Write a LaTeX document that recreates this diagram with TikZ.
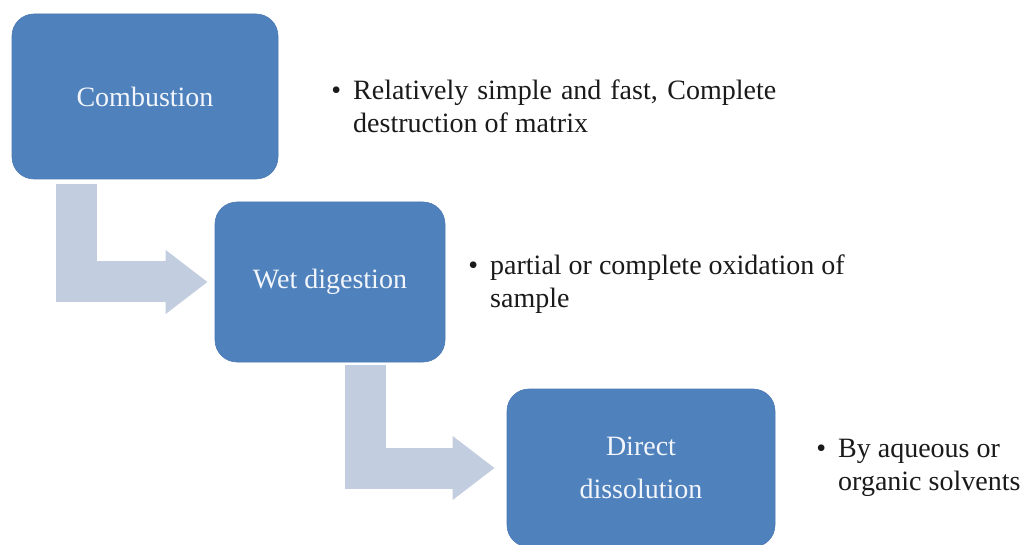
\documentclass[tikz,border=0pt]{standalone}
\usepackage{fontspec}
\setmainfont{Liberation Serif}
\usetikzlibrary{arrows.meta}
\definecolor{boxblue}{HTML}{4F81BD}
\definecolor{boxedge}{HTML}{4A79B3}
\definecolor{arrowgray}{HTML}{C3CDE0}
\definecolor{boxtext}{HTML}{F2F6FB}
\definecolor{bullettext}{HTML}{1A1A1A}
\begin{document}
\begin{tikzpicture}[x=1pt,y=-1pt,
  stagebox/.style={fill=boxblue, draw=boxedge, line width=0.6pt, rounded corners=22pt,
    text=boxtext, align=center, font=\fontsize{28}{43}\selectfont, inner sep=0pt},
  bulletnote/.style={text=bullettext, align=left, font=\fontsize{28}{33}\selectfont,
    inner sep=0pt, anchor=base west},
  blockarrow/.style={draw=arrowgray, line width=41pt, line join=miter,
    -{Triangle[width=61pt,length=42pt]}}]
\useasboundingbox (0,0) rectangle (1028,545);
\fill[white] (0,0) rectangle (1028,545);

\node[stagebox, minimum width=266pt, minimum height=165pt] (c) at (145,96.5) {Combustion};
\node[stagebox, minimum width=230pt, minimum height=160pt] (w) at (330,282) {Wet digestion};
\node[stagebox, minimum width=268pt, minimum height=158pt] (d) at (641,468) {Direct\\dissolution};

\draw[blockarrow, shorten >=7pt] ([xshift=-69pt, yshift=-5pt]c.south) |- (w.west);
\draw[blockarrow, shorten >=12pt] ([xshift=35.5pt, yshift=-3pt]w.south) |- (d.west);

\node[bulletnote] (n1) at (353,133) {\llap{\textbullet\hspace{12pt}}\makebox[423pt][s]{Relatively simple and fast, Complete}\\destruction of matrix};
\node[bulletnote] (n2) at (490,308) {\llap{\textbullet\hspace{12pt}}partial or complete oxidation of\\sample};
\node[bulletnote] (n3) at (838,490) {\llap{\textbullet\hspace{12pt}}By aqueous or\\organic solvents};
\end{tikzpicture}
\end{document}
